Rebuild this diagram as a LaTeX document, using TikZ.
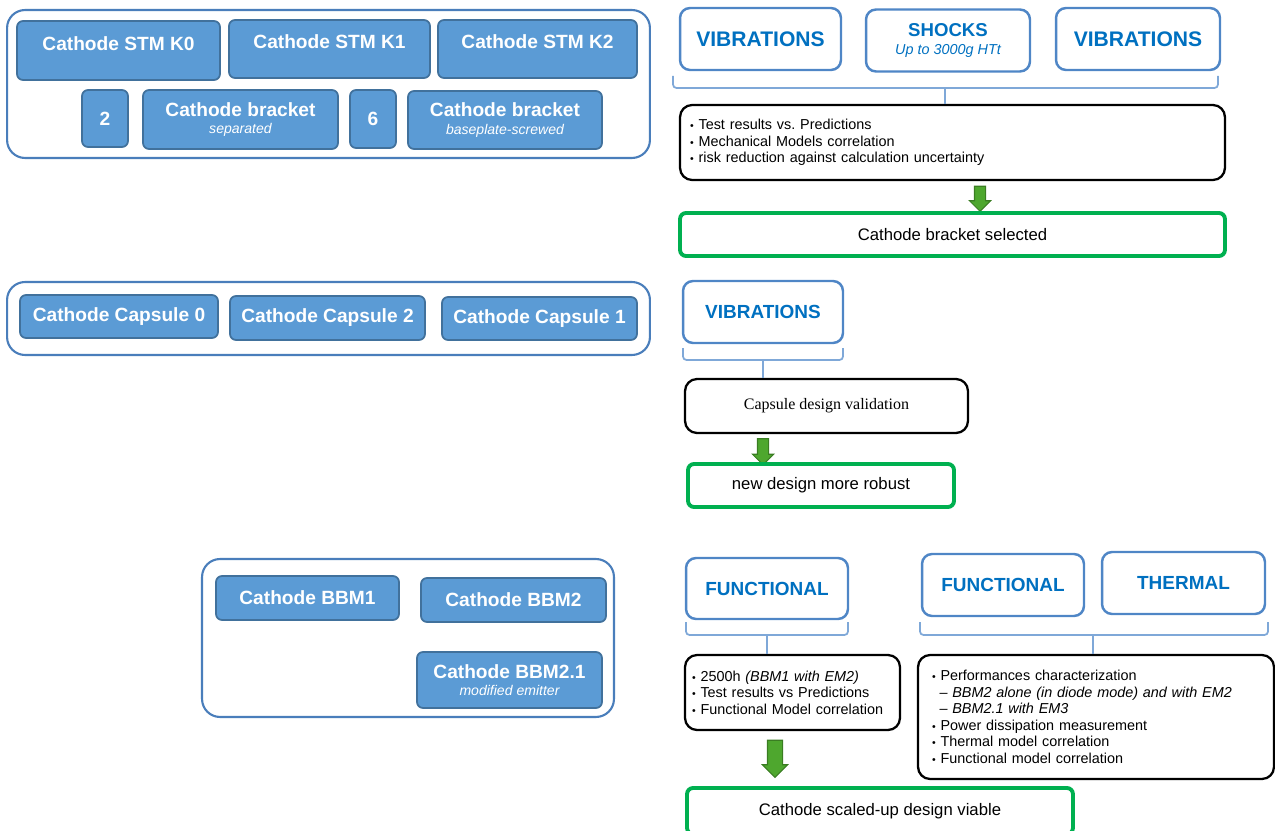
\documentclass[tikz,border=0pt]{standalone}
\usepackage{fontspec}
\setmainfont{Liberation Sans}
\newfontfamily\serifface{Liberation Serif}
\usetikzlibrary{shapes,arrows,positioning,calc,fit}
\frenchspacing

\definecolor{unitfill}{HTML}{5B9BD5}
\definecolor{unitline}{HTML}{41719C}
\definecolor{groupline}{HTML}{4A7EBB}
\definecolor{testline}{HTML}{4F86C6}
\definecolor{testtext}{HTML}{0070C0}
\definecolor{braceline}{HTML}{7FA8D8}
\definecolor{okgreen}{HTML}{00B050}
\definecolor{arrowfill}{HTML}{4EA72E}
\definecolor{arrowline}{HTML}{3A7D22}

\newcommand{\bul}{{\fontsize{6}{6}\selectfont\textbullet}\ }
\newcommand{\subnote}[1]{\\[-2.5pt]{\fontsize{8}{9}\selectfont\mdseries\itshape #1}}

\begin{document}
\begin{tikzpicture}[
  x=0.02cm, y=-0.02cm,
  group/.style={rectangle, draw=groupline, line width=1.2pt, rounded corners=0.36cm},
  unit/.style={rectangle, draw=unitline, fill=unitfill, line width=1pt, rounded corners=0.12cm, text=white, font=\fontsize{10.9}{12.5}\selectfont\bfseries, align=center, inner sep=0pt},
  toplab/.style={text height=0.3cm, text depth=0.3cm},
  test/.style={rectangle, draw=testline, line width=1.4pt, rounded corners=0.2cm, text=testtext, font=\fontsize{10.8}{13}\selectfont\bfseries, align=center, minimum height=1.24cm},
  note/.style={rectangle, draw=black, line width=1.3pt, rounded corners=0.24cm, font=\fontsize{8.2}{9.4}\selectfont, align=left},
  result/.style={rectangle, draw=okgreen, line width=2.2pt, rounded corners=0.12cm, font=\fontsize{9.5}{11}\selectfont, align=center},
  garrow/.style={single arrow, shape border rotate=270, draw=arrowline, fill=arrowfill, line width=0.6pt, inner sep=0.1cm, single arrow head extend=0.1cm, minimum height=0.5cm},
  brace/.style={draw=braceline, line width=1pt, rounded corners=2pt}
]
\useasboundingbox (0,0) rectangle (1275,831);

% Cathode STM models
\node[group, minimum width=12.86cm, minimum height=2.96cm] (stm) at (328.5,84) {};
\node[unit, toplab, minimum width=4.06cm, minimum height=1.18cm] (k0) at (118.5,50.5) {Cathode STM K0};
\node[unit, toplab, minimum width=4.02cm, minimum height=1.16cm] (k1) at (329.5,49) {Cathode STM K1};
\node[unit, toplab, minimum width=3.98cm, minimum height=1.16cm] (k2) at (537.5,49) {Cathode STM K2};
\node[unit, minimum width=0.92cm, minimum height=1.14cm] (n2) at (105,118.5) {2};
\node[unit, minimum width=3.9cm, minimum height=1.18cm] (brsep) at (240.5,119.5) {Cathode bracket\subnote{separated}};
\node[unit, minimum width=0.92cm, minimum height=1.16cm] (n6) at (373,119) {6};
\node[unit, minimum width=3.88cm, minimum height=1.16cm] (brscr) at (505,120) {Cathode bracket\subnote{baseplate-screwed}};

% STM tests
\node[test, minimum width=3.22cm, font=\fontsize{12}{14}\selectfont\bfseries] (vib1) at (760.5,39) {VIBRATIONS};
\node[test, minimum width=3.28cm, font=\fontsize{10.6}{12}\selectfont\bfseries] (shock) at (948,40.5) {SHOCKS\\[-2pt]{\fontsize{8.2}{9}\selectfont\mdseries\itshape Up to 3000g HTt}};
\node[test, minimum width=3.28cm, font=\fontsize{12}{14}\selectfont\bfseries] (vib2) at (1138,39) {VIBRATIONS};
\coordinate (b1l) at (673,76);
\coordinate (b1r) at (1218,76);
\coordinate (b1m) at (945,88);
\node[note, text width=10.5cm, inner xsep=0.2cm, minimum height=1.5cm] (res1) at (952.5,142.5) {\bul Test results vs. Predictions\\ \bul Mechanical Models correlation\\ \bul risk reduction against calculation uncertainty};
\draw[brace] (b1l) |- (b1m) -| (b1r);
\draw[brace] (b1m) -- (b1m |- res1.north);
\node[garrow] (ga1) at (980,196) {};
\node[result, minimum width=10.9cm, minimum height=0.86cm] (sel1) at (952.5,234.5) {Cathode bracket selected};

% Cathode capsules
\node[group, minimum width=12.86cm, minimum height=1.46cm] (caps) at (328.5,318.5) {};
\node[unit, minimum width=3.96cm, minimum height=0.86cm] (cap0) at (119,316.5) {Cathode Capsule 0};
\node[unit, minimum width=3.9cm, minimum height=0.88cm] (cap2) at (327.5,318) {Cathode Capsule 2};
\node[unit, minimum width=3.9cm, minimum height=0.86cm] (cap1) at (539.5,318.5) {Cathode Capsule 1};

% Capsule tests
\node[test, minimum width=3.2cm] (vib3) at (763,312) {VIBRATIONS};
\coordinate (b2l) at (683,348);
\coordinate (b2r) at (843,348);
\coordinate (b2m) at (763,360);
\node[note, minimum width=5.66cm, minimum height=1.08cm, align=center, font=\serifface\fontsize{9.1}{11}\selectfont] (valid) at (826.5,406) {Capsule design validation};
\draw[brace] (b2l) |- (b2m) -| (b2r);
\draw[brace] (b2m) -- (b2m |- valid.north);
\node[garrow, minimum height=0.52cm] (ga2) at (763,449) {};
\node[result, minimum width=5.32cm, minimum height=0.86cm] (robust) at (821,485.5) {new design more robust};

% Cathode BBMs
\node[group, minimum width=8.24cm, minimum height=3.16cm] (bbm) at (408,638) {};
\node[unit, minimum width=3.66cm, minimum height=0.88cm] (bbm1) at (307.5,598) {Cathode BBM1};
\node[unit, minimum width=3.7cm, minimum height=0.88cm] (bbm2) at (513.5,600) {Cathode BBM2};
\node[unit, minimum width=3.7cm, minimum height=1.12cm] (bbm21) at (509.5,680) {Cathode BBM2.1\subnote{modified emitter}};

% BBM tests
\node[test, minimum width=3.24cm, minimum height=1.22cm] (func1) at (767,588.5) {FUNCTIONAL};
\coordinate (b3l) at (686,622);
\coordinate (b3r) at (848,622);
\coordinate (b3m) at (767,635);
\node[note, text width=4.02cm, inner xsep=0.14cm, minimum height=1.5cm] (res2) at (792.5,692.5) {\bul 2500h \textit{(BBM1 with EM2)}\\ \bul Test results vs Predictions\\ \bul Functional Model correlation};
\draw[brace] (b3l) |- (b3m) -| (b3r);
\draw[brace] (b3m) -- (b3m |- res2.north);
\node[garrow, minimum height=0.74cm, inner sep=0.14cm, single arrow head extend=0.1cm] (ga3) at (775,755) {};
\node[result, minimum width=7.72cm, minimum height=0.92cm] (viable) at (880,811) {Cathode scaled-up design viable};

\node[test, minimum width=3.24cm] (func2) at (1003,585) {FUNCTIONAL};
\node[test, minimum width=3.26cm] (therm) at (1183.5,583) {THERMAL};
\coordinate (b4l) at (920,622);
\coordinate (b4r) at (1268,622);
\coordinate (b4m) at (1093,635);
\node[note, text width=6.56cm, inner xsep=0.28cm, minimum height=2.48cm] (res3) at (1096,717) {\bul Performances characterization\\ \hspace*{0.15cm}\textit{-- BBM2 alone (in diode mode) and with EM2}\\ \hspace*{0.15cm}\textit{-- BBM2.1 with EM3}\\ \bul Power dissipation measurement\\ \bul Thermal model correlation\\ \bul Functional model correlation};
\draw[brace] (b4l) |- (b4m) -| (b4r);
\draw[brace] (b4m) -- (b4m |- res3.north);

\end{tikzpicture}
\end{document}
